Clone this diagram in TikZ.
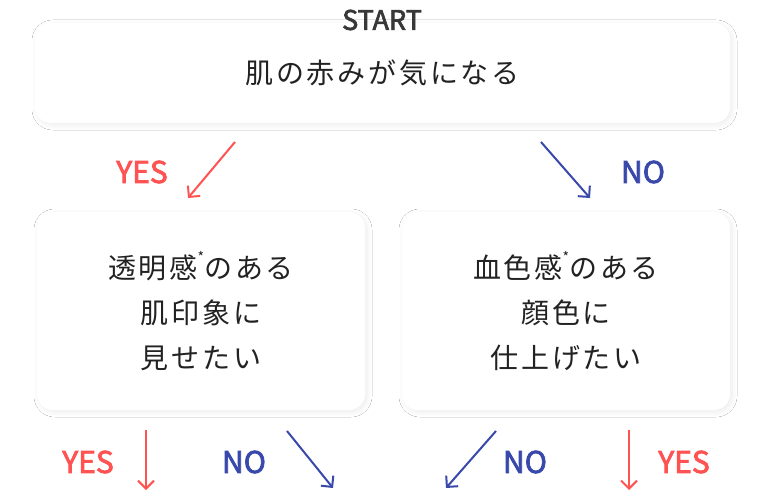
\documentclass[tikz,border=0pt]{standalone}
\usepackage{fontspec}
\newfontfamily\jp[LetterSpace=10]{Noto Sans CJK JP}
\newfontfamily\en[FakeBold=2.5]{Noto Sans CJK JP}
\usetikzlibrary{arrows.meta, shadows.blur}

\definecolor{yescol}{HTML}{FF5252}
\definecolor{nocol}{HTML}{3949AB}
\definecolor{inkcol}{HTML}{222222}

\tikzset{
  card/.style={fill=white, rounded corners=16pt, align=center, text=inkcol,
    font=\jp\fontsize{28}{45}\selectfont,
    blur shadow={shadow xshift=2pt, shadow yshift=-2pt, shadow blur radius=5pt,
      shadow blur steps=14, shadow opacity=8}},
  answer/.style={font=\en\fontsize{30}{30}\selectfont},
  yesarrow/.style={draw=yescol, line width=2pt, -{Straight Barb[length=8pt, width=16pt]}},
  noarrow/.style={draw=nocol, line width=2pt, -{Straight Barb[length=8pt, width=16pt]}}
}
\newcommand{\notemark}{\raisebox{0.55em}{\fontsize{14}{14}\selectfont *}}

\begin{document}
\begin{tikzpicture}[x=1pt, y=-1pt]
      \useasboundingbox (0,0) rectangle (768,497);
      \fill[white] (0,0) rectangle (768,497);
      % boxes
      \node[card, minimum width=695pt, minimum height=100pt] (start) at (382.5,73) {肌の赤みが気になる};
      \node[font=\en\fontsize{27}{27}\selectfont, text=inkcol!90] (title) at (382,20) {START};
      \node[card, minimum width=328pt, minimum height=198pt] (clear) at (201,311) {透明感\notemark のある\\肌印象に\\見せたい};
      \node[card, minimum width=328pt, minimum height=198pt] (ruddy) at (566,311) {血色感\notemark のある\\顔色に\\仕上げたい};
      % first answer
      \coordinate (ya) at (235,142);
      \coordinate (yb) at (188,198);
      \coordinate (na) at (541,142);
      \coordinate (nb) at (590,198);
      \draw[yesarrow] (ya) -- (yb);
      \draw[noarrow] (na) -- (nb);
      \node[answer, text=yescol] (yes1) at (142,172) {YES};
      \node[answer, text=nocol] (no1) at (643,172) {NO};
      % second answers
      \coordinate (ly1) at (146,430);
      \coordinate (ly2) at (146,490);
      \coordinate (ln1) at (287,431);
      \coordinate (ln2) at (333,488);
      \coordinate (rn1) at (496,431);
      \coordinate (rn2) at (446,488);
      \coordinate (ry1) at (629,430);
      \coordinate (ry2) at (629,490);
      \draw[yesarrow] (ly1) -- (ly2);
      \draw[noarrow] (ln1) -- (ln2);
      \draw[noarrow] (rn1) -- (rn2);
      \draw[yesarrow] (ry1) -- (ry2);
      \node[answer, text=yescol] (yes2) at (88,462) {YES};
      \node[answer, text=nocol] (no2) at (244,462) {NO};
      \node[answer, text=nocol] (no3) at (525,462) {NO};
      \node[answer, text=yescol] (yes3) at (684,462) {YES};
    \end{tikzpicture}
\end{document}
